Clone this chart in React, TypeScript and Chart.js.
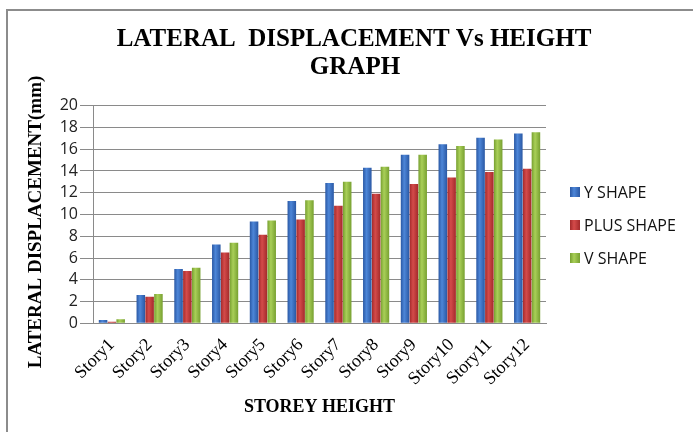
import React, { useEffect, useRef } from 'react';
import { Chart, registerables } from 'chart.js';

Chart.register(...registerables);

const categories = ['Story1', 'Story2', 'Story3', 'Story4', 'Story5', 'Story6', 'Story7', 'Story8', 'Story9', 'Story10', 'Story11', 'Story12'];
const yShape = [0.3, 2.6, 5.0, 7.25, 9.35, 11.25, 12.9, 14.3, 15.5, 16.45, 17.05, 17.45];
const plusShape = [0.15, 2.45, 4.8, 6.5, 8.15, 9.55, 10.8, 11.9, 12.8, 13.4, 13.9, 14.2];
const vShape = [0.37, 2.7, 5.1, 7.4, 9.45, 11.3, 13.0, 14.4, 15.5, 16.3, 16.9, 17.55];
const seriesNames = ['Y SHAPE', 'PLUS SHAPE', 'V SHAPE'];
const titleLines = ['LATERAL  DISPLACEMENT Vs HEIGHT', 'GRAPH'];
const yTitle = 'LATERAL DISPLACEMENT(mm)';
const xTitle = 'STOREY HEIGHT';
const yMin = 0;
const yMax = 20;
const yStep = 2;

const seriesColors = [
  { edge: '#2a58a4', mid: '#4d86d8', solid: '#3a6fc4' },
  { edge: '#a32a2b', mid: '#d44b4a', solid: '#c23a3b' },
  { edge: '#77a030', mid: '#a9cf58', solid: '#8fb83f' },
];

const SERIF = '"Liberation Serif", "Times New Roman", serif';
const SANS = '"Open Sans", "Noto Sans", sans-serif';

const framePlugin = {
  id: 'frame',
  beforeDraw(chart: any) {
    const { ctx, width, height } = chart;
    ctx.save();
    ctx.fillStyle = '#ffffff';
    ctx.fillRect(0, 0, width, height);
    ctx.strokeStyle = '#8c8c8c';
    ctx.lineWidth = 2;
    ctx.beginPath();
    ctx.moveTo(7, height);
    ctx.lineTo(7, 10);
    ctx.lineTo(width, 10);
    ctx.stroke();
    ctx.restore();
  },
};

const shadePlugin = {
  id: 'shade',
  beforeDatasetsDraw(chart: any) {
    const { ctx } = chart;
    chart.data.datasets.forEach((ds: any, di: number) => {
      const meta = chart.getDatasetMeta(di);
      const c = seriesColors[di];
      meta.data.forEach((el: any) => {
        const x0 = el.x - el.width / 2;
        const x1 = el.x + el.width / 2;
        const g = ctx.createLinearGradient(x0, 0, x1, 0);
        g.addColorStop(0, c.edge);
        g.addColorStop(0.4, c.mid);
        g.addColorStop(1, c.edge);
        el.options = Object.assign({}, el.options, { backgroundColor: g });
      });
    });
  },
};

const textPlugin = {
  id: 'texts',
  afterDraw(chart: any) {
    const { ctx } = chart;
    ctx.save();
    ctx.fillStyle = '#000';
    ctx.textAlign = 'center';
    ctx.textBaseline = 'middle';
    ctx.font = 'bold 25px ' + SERIF;
    ctx.fillText(titleLines[0], 354, 40);
    ctx.fillText(titleLines[1], 355, 68);
    ctx.save();
    ctx.translate(36.5, 222);
    ctx.rotate(-Math.PI / 2);
    ctx.font = 'bold 19px ' + SERIF;
    ctx.fillText(yTitle, 0, 0);
    ctx.restore();
    ctx.font = '16px ' + SANS;
    ctx.textBaseline = 'middle';
    ctx.textAlign = 'left';
    seriesNames.forEach((name, i) => {
      const y = 192 + i * 33;
      const c = seriesColors[i];
      const g = ctx.createLinearGradient(570, 0, 580, 0);
      g.addColorStop(0, c.edge);
      g.addColorStop(0.4, c.mid);
      g.addColorStop(1, c.edge);
      ctx.fillStyle = g;
      ctx.fillRect(570, y - 5, 10, 10);
      ctx.fillStyle = '#111';
      ctx.fillText(name, 584, y + 1);
    });
    ctx.restore();
  },
};

export default function App() {
  const canvasRef = useRef<HTMLCanvasElement | null>(null);

  useEffect(() => {
    const canvas = canvasRef.current;
    if (!canvas) return;
    const data = [yShape, plusShape, vShape];
    const chart = new Chart(canvas, {
      type: 'bar',
      data: {
        labels: categories,
        datasets: seriesNames.map((name, i) => ({
          label: name,
          data: data[i],
          backgroundColor: seriesColors[i].solid,
          borderWidth: 0,
          barPercentage: 0.97,
          categoryPercentage: 0.7,
        })),
      },
      options: {
        responsive: false,
        animation: false,
        devicePixelRatio: 1,
        layout: { padding: { left: 7, right: 147, top: 105.7, bottom: 0 } },
        plugins: {
          legend: { display: false },
          tooltip: { enabled: false },
          title: { display: false },
        },
        scales: {
          x: {
            grid: { display: false },
            border: { display: true, color: '#8a8a8a' },
            ticks: {
              font: { family: SERIF, size: 18 },
              color: '#000',
              minRotation: 45,
              maxRotation: 45,
              autoSkip: false,
              padding: 3,
            },
            title: {
              display: true,
              text: xTitle,
              color: '#000',
              font: { family: SERIF, size: 18, weight: 'bold' },
              padding: { top: 0, bottom: 13.7 },
            },
            afterFit: (s: any) => {
              s.height = 108.7;
            },
          },
          y: {
            min: yMin,
            max: yMax,
            ticks: {
              stepSize: yStep,
              autoSkip: false,
              font: { family: SANS, size: 16 },
              color: '#222',
              padding: 2,
            },
            grid: { color: '#8a8a8a', tickLength: 13, lineWidth: 1 },
            border: { display: true, color: '#8a8a8a' },
            afterFit: (s: any) => {
              s.width = 86;
            },
          },
        },
      },
      plugins: [framePlugin, shadePlugin, textPlugin],
    } as any);
    return () => {
      chart.destroy();
    };
  }, []);

  return (
    <div style={{ position: 'fixed', left: 0, top: 0, width: 693, height: 432, background: '#fff' }}>
      <canvas ref={canvasRef} width={693} height={432} style={{ display: 'block', width: 693, height: 432 }} />
    </div>
  );
}
